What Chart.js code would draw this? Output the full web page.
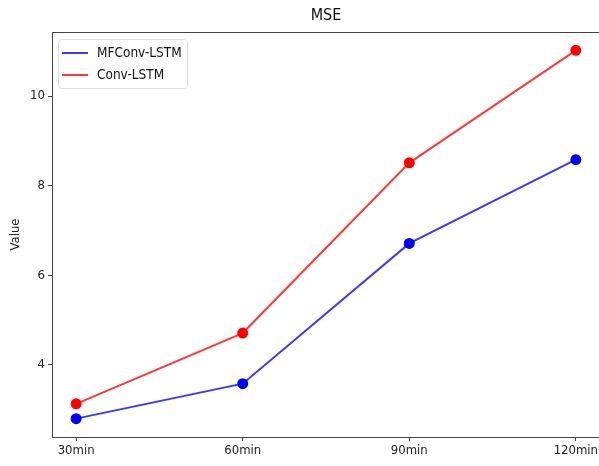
<!DOCTYPE html>
<html>
<head>
<meta charset="utf-8">
<script src="https://cdn.jsdelivr.net/npm/chart.js@4/dist/chart.umd.min.js"></script>
<style>
  html, body { margin: 0; padding: 0; background: #fff; }
  #wrap { width: 599px; height: 466px; overflow: hidden; }
</style>
</head>
<body>
<div id="wrap"><canvas id="mseChart" width="599" height="466"></canvas></div>
<script>
const categories = ['30min', '60min', '90min', '120min'];
const mfconvValues = [2.80, 3.58, 6.71, 8.58];
const convValues = [3.13, 4.71, 8.51, 11.02];
const yTicks = [4, 6, 8, 10];

const FONT = "'DejaVu Sans Condensed', 'DejaVu Sans', sans-serif";

function toPoints(values) {
    return values.map((v, i) => ({ x: i, y: v }));
}

// frame round the plot area, title and a legend inside the plot (matplotlib look)
const framePlugin = {
    id: 'frame',
    afterDraw(chart) {
        const { ctx, chartArea } = chart;
        ctx.save();
        ctx.strokeStyle = '#444';
        ctx.lineWidth = 1;
        ctx.strokeRect(chartArea.left + 0.5, chartArea.top + 0.5,
            chartArea.right - chartArea.left + 10, chartArea.bottom - chartArea.top);

        ctx.fillStyle = '#111';
        ctx.font = '16px ' + FONT;
        ctx.textAlign = 'center';
        ctx.textBaseline = 'middle';
        ctx.fillText('MSE', 326, 16);

        // legend box
        const bx = chartArea.left + 6, by = chartArea.top + 7;
        ctx.fillStyle = 'rgba(255,255,255,0.8)';
        ctx.strokeStyle = '#ddd';
        ctx.beginPath();
        ctx.roundRect(bx + 0.5, by + 0.5, 129, 49, 3);
        ctx.fill();
        ctx.stroke();
        ctx.font = '13.5px ' + FONT;
        ctx.textAlign = 'left';
        chart.data.datasets.forEach((ds, i) => {
            const ly = by + 14 + i * 22;
            ctx.strokeStyle = ds.borderColor;
            ctx.lineWidth = 2;
            ctx.beginPath();
            ctx.moveTo(bx + 4, ly);
            ctx.lineTo(bx + 30, ly);
            ctx.stroke();
            ctx.fillStyle = '#111';
            ctx.fillText(ds.label, bx + 39, ly);
        });
        ctx.restore();
    }
};

const ctx = document.getElementById('mseChart').getContext('2d');
const chart = new Chart(ctx, {
    type: 'line',
    data: {
        datasets: [
            {
                label: 'MFConv-LSTM',
                data: toPoints(mfconvValues),
                borderColor: 'rgba(0, 0, 255, 0.78)',
                backgroundColor: '#0000ff',
                pointBackgroundColor: '#0000ff',
                pointBorderColor: '#0000ff',
                borderWidth: 2,
                pointRadius: 4.5,
                tension: 0
            },
            {
                label: 'Conv-LSTM',
                data: toPoints(convValues),
                borderColor: 'rgba(255, 0, 0, 0.78)',
                backgroundColor: '#ff0000',
                pointBackgroundColor: '#ff0000',
                pointBorderColor: '#ff0000',
                borderWidth: 2,
                pointRadius: 4.5,
                tension: 0
            }
        ]
    },
    options: {
        responsive: false,
        animation: false,
        layout: { autoPadding: false, padding: { top: 32, right: 0, left: 0, bottom: 0 } },
        plugins: {
            legend: { display: false },
            title: { display: false },
            tooltip: { enabled: false }
        },
        scales: {
            x: {
                type: 'linear',
                min: -0.145,
                max: 3.139,
                afterBuildTicks: axis => { axis.ticks = categories.map((c, i) => ({ value: i })); },
                afterFit: axis => { axis.height = 29; axis.paddingLeft = 0; axis.paddingRight = 0; },
                ticks: {
                    callback: v => categories[v],
                    color: '#222',
                    font: { family: FONT, size: 13 },
                    padding: 2,
                    maxRotation: 0
                },
                grid: { drawOnChartArea: false, drawTicks: true, tickLength: 4, color: '#444' },
                border: { display: true, color: '#444' }
            },
            y: {
                min: 2.39,
                max: 11.43,
                afterBuildTicks: axis => { axis.ticks = yTicks.map(v => ({ value: v })); },
                afterFit: axis => { axis.width = 52; axis.paddingTop = 0; axis.paddingBottom = 0; },
                ticks: {
                    color: '#222',
                    font: { family: FONT, size: 13 },
                    padding: 3
                },
                title: {
                    display: true,
                    text: 'Value',
                    color: '#222',
                    font: { family: FONT, size: 13 },
                    padding: { top: 8, bottom: 0 }
                },
                grid: { drawOnChartArea: false, drawTicks: true, tickLength: 4, color: '#444' },
                border: { display: true, color: '#444' }
            }
        }
    },
    plugins: [framePlugin]
});
</script>
</body>
</html>
